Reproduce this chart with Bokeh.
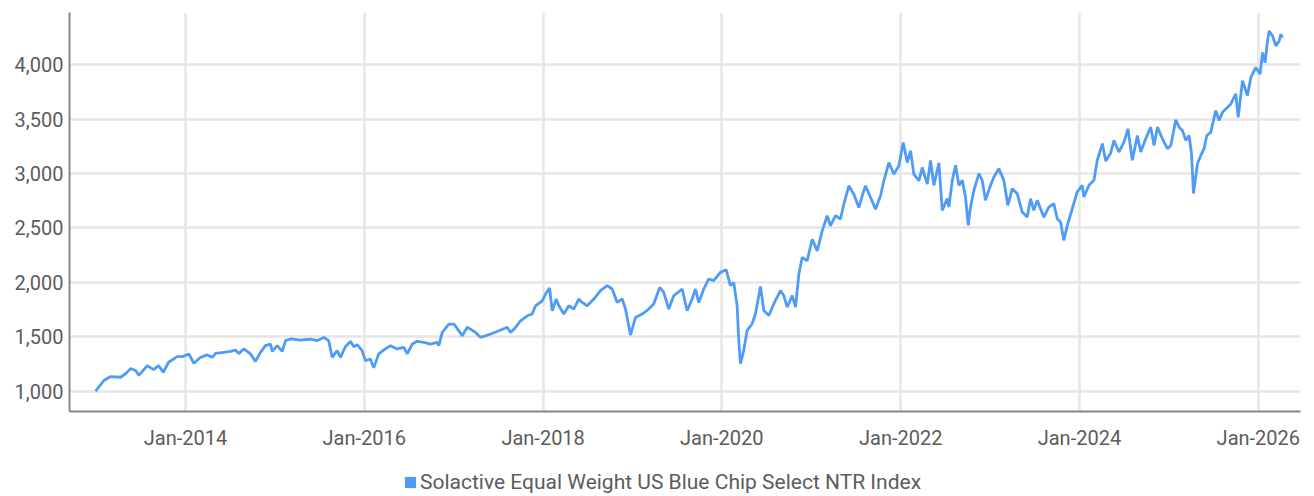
from datetime import datetime, timedelta
from bokeh.plotting import figure
from bokeh.layouts import column
from bokeh.models import (Range1d, FixedTicker, DatetimeTickFormatter, Legend, LegendItem,
                          ColumnDataSource, NumeralTickFormatter)
from bokeh.embed import file_html
from bokeh.resources import INLINE

# Decimal-year positions
years = [
    2012.993, 2013.086, 2013.161, 2013.273, 2013.329, 2013.385, 2013.441, 2013.478, 2013.572, 2013.642,
    2013.698, 2013.751, 2013.810, 2013.907, 2013.963, 2014.037, 2014.093, 2014.168, 2014.243, 2014.299,
    2014.336, 2014.428, 2014.503, 2014.559, 2014.596, 2014.652, 2014.727, 2014.783, 2014.839, 2014.895,
    2014.951, 2014.970, 2015.026, 2015.082, 2015.119, 2015.174, 2015.286, 2015.398, 2015.473, 2015.547,
    2015.603, 2015.641, 2015.697, 2015.734, 2015.790, 2015.846, 2015.883, 2015.921, 2015.977, 2016.013,
    2016.069, 2016.106, 2016.162, 2016.218, 2016.293, 2016.368, 2016.442, 2016.480, 2016.536, 2016.592,
    2016.666, 2016.740, 2016.815, 2016.833, 2016.871, 2016.945, 2017.001, 2017.095, 2017.151, 2017.244,
    2017.300, 2017.412, 2017.505, 2017.598, 2017.635, 2017.691, 2017.747, 2017.822, 2017.878, 2017.915,
    2017.990, 2018.027, 2018.072, 2018.102, 2018.147, 2018.176, 2018.232, 2018.287, 2018.343, 2018.399,
    2018.437, 2018.493, 2018.567, 2018.642, 2018.717, 2018.773, 2018.829, 2018.885, 2018.922, 2018.978,
    2019.034, 2019.108, 2019.182, 2019.238, 2019.305, 2019.350, 2019.406, 2019.462, 2019.556, 2019.612,
    2019.668, 2019.705, 2019.742, 2019.798, 2019.853, 2019.909, 2019.984, 2020.048, 2020.096, 2020.133,
    2020.171, 2020.189, 2020.208, 2020.245, 2020.283, 2020.339, 2020.376, 2020.432, 2020.469, 2020.525,
    2020.581, 2020.655, 2020.692, 2020.730, 2020.786, 2020.823, 2020.860, 2020.897, 2020.953, 2021.009,
    2021.065, 2021.121, 2021.177, 2021.214, 2021.270, 2021.326, 2021.363, 2021.419, 2021.475, 2021.531,
    2021.569, 2021.606, 2021.662, 2021.718, 2021.774, 2021.811, 2021.867, 2021.923, 2021.979, 2022.028,
    2022.073, 2022.110, 2022.147, 2022.203, 2022.241, 2022.297, 2022.334, 2022.371, 2022.427, 2022.465,
    2022.521, 2022.539, 2022.577, 2022.614, 2022.651, 2022.689, 2022.725, 2022.756, 2022.781, 2022.819,
    2022.875, 2022.912, 2022.949, 2023.005, 2023.043, 2023.098, 2023.154, 2023.199, 2023.248, 2023.304,
    2023.360, 2023.416, 2023.453, 2023.490, 2023.528, 2023.565, 2023.602, 2023.658, 2023.714, 2023.752,
    2023.789, 2023.826, 2023.864, 2023.920, 2023.975, 2024.031, 2024.050, 2024.106, 2024.162, 2024.200,
    2024.256, 2024.293, 2024.349, 2024.386, 2024.441, 2024.497, 2024.542, 2024.591, 2024.647, 2024.684,
    2024.740, 2024.796, 2024.833, 2024.871, 2024.927, 2024.983, 2025.020, 2025.076, 2025.113, 2025.151,
    2025.188, 2025.225, 2025.252, 2025.274, 2025.319, 2025.356, 2025.393, 2025.423, 2025.468, 2025.523,
    2025.561, 2025.599, 2025.636, 2025.692, 2025.748, 2025.774, 2025.823, 2025.860, 2025.879, 2025.916,
    2025.972, 2026.020, 2026.047, 2026.076, 2026.103, 2026.121, 2026.159, 2026.196, 2026.233, 2026.252,
    2026.271,
]

index_values = [
    1000, 1098, 1134, 1128, 1160, 1207, 1190, 1145, 1235, 1198,
    1235, 1174, 1266, 1317, 1317, 1342, 1256, 1311, 1333, 1311,
    1347, 1356, 1366, 1378, 1345, 1388, 1342, 1274, 1357, 1418,
    1433, 1366, 1418, 1366, 1464, 1480, 1470, 1479, 1464, 1494,
    1464, 1311, 1372, 1311, 1409, 1458, 1409, 1427, 1372, 1281,
    1296, 1214, 1342, 1378, 1418, 1388, 1403, 1342, 1433, 1458,
    1448, 1433, 1448, 1418, 1540, 1617, 1617, 1510, 1587, 1540,
    1494, 1525, 1556, 1587, 1540, 1586, 1647, 1693, 1709, 1785,
    1831, 1892, 1948, 1739, 1847, 1785, 1709, 1785, 1755, 1847,
    1816, 1785, 1847, 1924, 1970, 1939, 1816, 1847, 1755, 1516,
    1678, 1709, 1755, 1801, 1954, 1908, 1755, 1877, 1939, 1739,
    1847, 1939, 1816, 1939, 2031, 2016, 2092, 2117, 1970, 2000,
    1785, 1466, 1252, 1374, 1558, 1620, 1712, 1962, 1742, 1696,
    1804, 1925, 1879, 1772, 1879, 1772, 2075, 2229, 2199, 2397,
    2290, 2474, 2613, 2521, 2613, 2582, 2720, 2888, 2811, 2688,
    2796, 2888, 2780, 2673, 2796, 2934, 3102, 2995, 3072, 3286,
    3102, 3210, 2995, 2934, 3056, 2903, 3120, 2892, 3098, 2662,
    2770, 2692, 2938, 3077, 2892, 2938, 2785, 2524, 2692, 2846,
    3000, 2938, 2754, 2892, 2969, 3046, 2938, 2708, 2862, 2815,
    2646, 2600, 2769, 2662, 2754, 2677, 2600, 2692, 2723, 2585,
    2554, 2385, 2523, 2677, 2831, 2892, 2785, 2892, 2938, 3123,
    3276, 3115, 3190, 3305, 3198, 3289, 3412, 3122, 3350, 3198,
    3320, 3427, 3259, 3427, 3320, 3229, 3259, 3494, 3427, 3396,
    3305, 3350, 3183, 2817, 3092, 3167, 3229, 3350, 3381, 3579,
    3488, 3564, 3595, 3640, 3732, 3518, 3854, 3762, 3717, 3884,
    3976, 3915, 4113, 4021, 4220, 4311, 4265, 4174, 4220, 4281,
    4250,
]

tick_years = [2014, 2016, 2018, 2020, 2022, 2024, 2026]
y_ticks = [1000, 1500, 2000, 2500, 3000, 3500, 4000]
series_name = "Solactive Equal Weight US Blue Chip Select NTR Index"


def to_dt(y):
    yr = int(y)
    start = datetime(yr, 1, 1)
    length = (datetime(yr + 1, 1, 1) - start).total_seconds()
    return start + timedelta(seconds=(y - yr) * length)


def to_ms(d):
    return (d - datetime(1970, 1, 1)).total_seconds() * 1000.0


dates = [to_dt(y) for y in years]
src = ColumnDataSource(dict(x=dates, y=index_values))

FONT = "Roboto"
TXT = "#5c5c5c"
BLUE = "#4f9cf6"
NAN = float("nan")

p = figure(width=1314, height=455, x_axis_type="datetime", output_backend="svg",
           toolbar_location=None,
           x_range=Range1d(to_dt(2012.702), to_dt(2026.472)),
           y_range=Range1d(813, 4481),
           min_border_left=69, min_border_right=14, min_border_top=12, min_border_bottom=44)
p.outline_line_color = None
p.background_fill_color = "white"
p.border_fill_color = "white"

line = p.line("x", "y", source=src, line_color=BLUE, line_width=2.8)

p.xaxis.ticker = FixedTicker(ticks=[to_ms(datetime(y, 1, 1)) for y in tick_years])
p.xaxis.formatter = DatetimeTickFormatter(years="%b-%Y", months="%b-%Y", days="%b-%Y")
p.yaxis.ticker = FixedTicker(ticks=y_ticks)
p.yaxis.formatter = NumeralTickFormatter(format="0,0")

for ax in (p.xaxis[0], p.yaxis[0]):
    ax.major_tick_line_color = None
    ax.minor_tick_line_color = None
    ax.major_tick_out = 0
    ax.major_tick_in = 0
    ax.axis_line_color = "#858585"
    ax.axis_line_width = 2
    ax.major_label_text_font = FONT
    ax.major_label_text_font_size = "20px"
    ax.major_label_text_color = TXT
p.xaxis.major_label_standoff = 14
p.yaxis.major_label_standoff = 6

p.xgrid.ticker = p.xaxis[0].ticker
p.ygrid.ticker = p.yaxis[0].ticker
p.grid.grid_line_color = "#e6e6e6"
p.grid.grid_line_width = 2.5

# Legend strip below the chart (its frame is aligned with the chart's frame)
lg = figure(width=1314, height=41, output_backend="svg", toolbar_location=None,
            x_range=Range1d(0, 1), y_range=Range1d(0, 1),
            min_border_left=0, min_border_right=0, min_border_top=0, min_border_bottom=0)
lg.axis.visible = False
lg.grid.visible = False
lg.outline_line_color = None
lg.background_fill_color = "white"
lg.border_fill_color = "white"
# legend swatch only: one row of NaN so nothing is drawn in the strip itself
sq = lg.quad(left=[NAN], right=[NAN], top=[NAN], bottom=[NAN], fill_color=BLUE, line_color=None)

legend = Legend(items=[LegendItem(label=series_name, renderers=[sq])],
                orientation="horizontal", location=(334, 2),
                border_line_color=None, background_fill_alpha=0,
                label_text_font=FONT, label_text_font_size="21px", label_text_color=TXT,
                glyph_width=14, glyph_height=14, label_standoff=3,
                padding=2, margin=0, spacing=0)
lg.add_layout(legend, "center")

layout = column(p, lg, spacing=0)
open("out.html", "w").write(file_html(layout, INLINE))
